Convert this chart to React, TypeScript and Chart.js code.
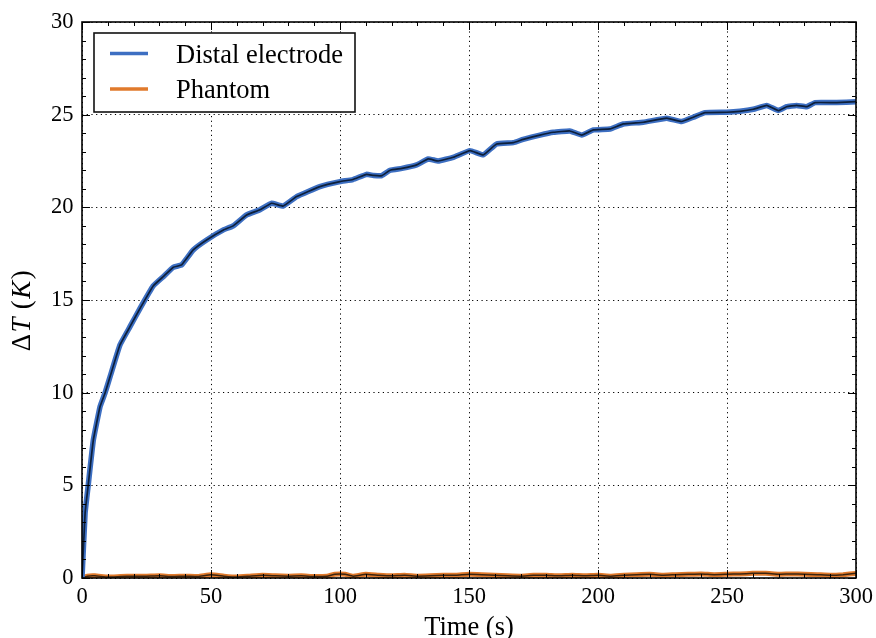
import React, { useEffect, useRef } from "react";
import { Chart, registerables } from "chart.js";
Chart.register(...registerables);

// ---- data ----
const distalTime = [0, 1.2, 2.4, 4.4, 7, 8.9, 10.9, 14.7, 18.6, 22.5, 27.6, 31.5, 35.4, 38.6, 43.1, 48.3, 54.8, 58.6, 63.8, 69, 73.5, 78, 83.2, 92.2, 100, 105, 110.3, 113, 116.2, 119.4, 124, 129.7, 134.2, 138.1, 143.9, 150.4, 155.5, 160.7, 167.2, 171, 177.5, 182.7, 189.1, 193.7, 198.2, 204.7, 209.8, 217.6, 226.6, 232.4, 236.9, 241.5, 249.9, 255, 260.2, 265.4, 269.9, 273.1, 277, 280.9, 284.1, 292.5, 300];
const distalK = [0, 3.5, 5.0, 7.45, 9.25, 9.97, 10.87, 12.57, 13.56, 14.55, 15.76, 16.26, 16.77, 16.89, 17.7, 18.24, 18.78, 19.0, 19.59, 19.87, 20.22, 20.07, 20.58, 21.12, 21.39, 21.5, 21.78, 21.72, 21.71, 22.0, 22.1, 22.29, 22.61, 22.5, 22.7, 23.06, 22.83, 23.42, 23.49, 23.67, 23.9, 24.05, 24.12, 23.9, 24.18, 24.23, 24.5, 24.59, 24.81, 24.63, 24.86, 25.11, 25.13, 25.18, 25.29, 25.5, 25.22, 25.43, 25.5, 25.43, 25.65, 25.65, 25.7];
const phantomTime = [0, 2, 5, 10, 15, 20, 25, 30, 35, 40, 45, 50, 55, 60, 65, 70, 75, 80, 85, 90, 95, 98, 102, 105, 110, 115, 120, 125, 130, 135, 140, 145, 150, 155, 160, 165, 170, 175, 180, 185, 190, 195, 200, 205, 210, 215, 220, 225, 230, 235, 240, 245, 250, 255, 260, 265, 270, 275, 280, 285, 290, 295, 300];
const phantomK = [0, 0.1, 0.12, 0.05, 0.08, 0.1, 0.1, 0.12, 0.08, 0.1, 0.08, 0.18, 0.1, 0.05, 0.1, 0.15, 0.12, 0.1, 0.12, 0.08, 0.1, 0.2, 0.2, 0.1, 0.2, 0.15, 0.12, 0.15, 0.1, 0.12, 0.15, 0.15, 0.2, 0.18, 0.15, 0.12, 0.1, 0.15, 0.15, 0.12, 0.15, 0.12, 0.15, 0.1, 0.15, 0.18, 0.2, 0.15, 0.18, 0.2, 0.22, 0.18, 0.2, 0.22, 0.25, 0.25, 0.2, 0.22, 0.2, 0.18, 0.15, 0.18, 0.25];
const seriesLabels = ["Distal electrode", "Phantom"];
const xTitle = "Time (s)";

const FONT = "'Liberation Serif', 'DejaVu Serif', serif";
const BLUE = "#3d6fc2";
const ORANGE = "#e07a2c";

const framePlugin = {
  id: "frameTicks",
  afterDraw(chart: any) {
    const { ctx, chartArea: a, scales } = chart;
    const xs = scales.x, ys = scales.y;
    ctx.save();
    ctx.strokeStyle = "#000";
    ctx.lineWidth = 1;
    for (let v = 0; v <= 300; v += 10) {
      const px = Math.round(xs.getPixelForValue(v)) + 0.5;
      const len = v % 50 === 0 ? 8 : 4;
      ctx.beginPath();
      ctx.moveTo(px, a.bottom); ctx.lineTo(px, a.bottom - len);
      ctx.moveTo(px, a.top); ctx.lineTo(px, a.top + len);
      ctx.stroke();
    }
    for (let v = 0; v <= 30; v += 1) {
      const py = Math.round(ys.getPixelForValue(v)) + 0.5;
      const len = v % 5 === 0 ? 8 : 4;
      ctx.beginPath();
      ctx.moveTo(a.left, py); ctx.lineTo(a.left + len, py);
      ctx.moveTo(a.right, py); ctx.lineTo(a.right - len, py);
      ctx.stroke();
    }
    ctx.lineWidth = 1.6;
    ctx.strokeRect(a.left, a.top, a.right - a.left, a.bottom - a.top);

    // legend
    const lx = 94, ly = 33, lw = 261, lh = 79;
    ctx.fillStyle = "#fff";
    ctx.fillRect(lx, ly, lw, lh);
    ctx.lineWidth = 1.6;
    ctx.strokeStyle = "#111";
    ctx.strokeRect(lx, ly, lw, lh);
    const colors = [BLUE, ORANGE];
    seriesLabels.forEach((lab, i) => {
      const yy = 53.5 + i * 35.5;
      ctx.strokeStyle = colors[i];
      ctx.lineWidth = 3.5;
      ctx.beginPath(); ctx.moveTo(110, yy); ctx.lineTo(148, yy); ctx.stroke();
      ctx.fillStyle = "#000";
      ctx.font = `26.5px ${FONT}`;
      ctx.textBaseline = "alphabetic";
      ctx.textAlign = "left";
      ctx.fillText(lab, 176, 63 + i * 35.3);
    });

    // x title
    ctx.fillStyle = "#000";
    ctx.font = `26.5px ${FONT}`;
    ctx.textAlign = "center";
    ctx.textBaseline = "alphabetic";
    ctx.fillText(xTitle, (a.left + a.right) / 2, 635);

    // y title: ΔT (K) with italics
    ctx.save();
    ctx.translate(30, 310);
    ctx.rotate(-Math.PI / 2);
    ctx.fillStyle = "#000";
    ctx.textBaseline = "alphabetic";
    const parts: [string, boolean][] = [["Δ", false], ["T", true], [" (", false], ["K", true], [")", false]];
    const fs = 27;
    let total = 0;
    parts.forEach(([t, it]) => { ctx.font = `${it ? "italic " : ""}${fs}px ${FONT}`; total += ctx.measureText(t).width + 1.5; });
    let cx = -total / 2;
    ctx.textAlign = "left";
    parts.forEach(([t, it]) => { ctx.font = `${it ? "italic " : ""}${fs}px ${FONT}`; ctx.fillText(t, cx, 0); cx += ctx.measureText(t).width + 1.5; });
    ctx.restore();
    ctx.restore();
  },
};

export default function App() {
  const ref = useRef<HTMLCanvasElement>(null);
  useEffect(() => {
    document.body.style.margin = "0";
    const distal = distalTime.map((t, i) => ({ x: t, y: distalK[i] }));
    const phantom = phantomTime.map((t, i) => ({ x: t, y: phantomK[i] }));
    const chart = new Chart(ref.current!, {
      type: "line",
      data: {
        datasets: [
          { label: seriesLabels[0] + " core", data: distal, borderColor: "#0d1f3a", borderWidth: 1.7, pointRadius: 0, tension: 0.1, order: 0 },
          { label: seriesLabels[0], data: distal, borderColor: BLUE, borderWidth: 5.5, pointRadius: 0, tension: 0.1, order: 1 },
          { label: seriesLabels[1] + " core", data: phantom, borderColor: "#3a2410", borderWidth: 1.5, pointRadius: 0, tension: 0.1, order: 2 },
          { label: seriesLabels[1], data: phantom, borderColor: ORANGE, borderWidth: 5, pointRadius: 0, tension: 0.1, order: 3 },
        ],
      },
      options: {
        animation: false,
        responsive: false,
        layout: { padding: { top: 22, right: 20, left: 0, bottom: 0 } },
        plugins: { legend: { display: false }, tooltip: { enabled: false } },
        scales: {
          x: {
            type: "linear", min: 0, max: 300,
            ticks: { stepSize: 50, color: "#000", font: { family: FONT, size: 22.5 }, padding: 6, maxRotation: 0 },
            grid: { color: "#000", lineWidth: 1, drawTicks: false },
            border: { display: false, dash: [1.2, 3.5] } as any,
            title: { display: false },
            afterFit: (s: any) => { s.height = 60; s.paddingLeft = 0; s.paddingRight = 0; },
          },
          y: {
            min: 0, max: 30,
            ticks: { stepSize: 5, color: "#000", font: { family: FONT, size: 22.5 }, padding: 8.5 },
            grid: { color: "#000", lineWidth: 1, drawTicks: false },
            border: { display: false, dash: [1.2, 3.5] } as any,
            afterFit: (s: any) => { s.width = 82; s.paddingTop = 0; s.paddingBottom = 0; },
          },
        },
      },
      plugins: [framePlugin],
    });
    return () => chart.destroy();
  }, []);
  return <canvas ref={ref} width={876} height={638} style={{ display: "block", width: 876, height: 638 }} />;
}
